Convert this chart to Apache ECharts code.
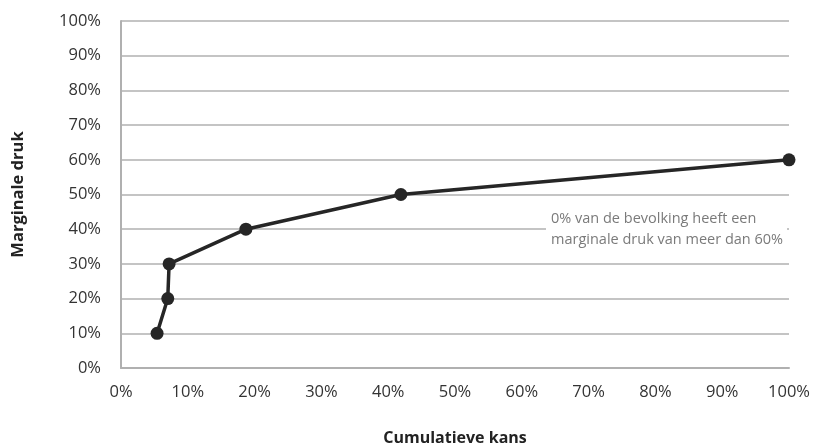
<!DOCTYPE html>
<html>
<head>
<meta charset="utf-8">
<script src="https://cdn.jsdelivr.net/npm/echarts@6/dist/echarts.min.js"></script>
<style>html,body{margin:0;padding:0;background:#fff;}#c{width:814px;height:444px;}</style>
</head>
<body>
<div id="c"></div>
<script>
const cumulativeKans = [5.4, 7.0, 7.2, 18.7, 41.9, 100];
const marginaleDruk = [10, 20, 30, 40, 50, 60];
const xAxisTitle = 'Cumulatieve kans';
const yAxisTitle = 'Marginale druk';
const noteLines = ['0% van de bevolking heeft een', 'marginale druk van meer dan 60%'];

const chart = echarts.init(document.getElementById('c'));
const font = '"Open Sans", "Liberation Sans", sans-serif';
chart.setOption({
  animation: false,
  backgroundColor: '#fff',
  grid: { left: 121, right: 25, top: 21, bottom: 76, containLabel: false, outerBoundsMode: 'none' },
  xAxis: {
    type: 'value', min: 0, max: 100, interval: 10,
    name: xAxisTitle, nameLocation: 'middle', nameGap: 62,
    nameTextStyle: { fontFamily: font, fontWeight: 'bold', fontSize: 16, color: '#222' },
    axisLine: { show: true, lineStyle: { color: '#b0b0b0', width: 2 } },
    axisTick: { show: false },
    splitLine: { show: false },
    axisLabel: { formatter: '{value}%', fontFamily: font, fontSize: 16.5, color: '#333', margin: 16 }
  },
  yAxis: {
    type: 'value', min: 0, max: 100, interval: 10,
    name: yAxisTitle, nameLocation: 'middle', nameGap: 94, nameRotate: 90,
    nameTextStyle: { fontFamily: font, fontWeight: 'bold', fontSize: 16.5, color: '#222' },
    axisLine: { show: true, lineStyle: { color: '#b0b0b0', width: 2 } },
    axisTick: { show: false },
    splitLine: { show: true, lineStyle: { color: '#c4c4c4', width: 2 } },
    axisLabel: { formatter: '{value}%', fontFamily: font, fontSize: 16.5, color: '#333', margin: 20 }
  },
  series: [{
    type: 'line',
    data: cumulativeKans.map((x, i) => [x, marginaleDruk[i]]),
    lineStyle: { color: '#262626', width: 3.5 },
    itemStyle: { color: '#262626' },
    symbol: 'circle', symbolSize: 13,
    z: 5
  }],
  graphic: [{
    type: 'text', left: 546, top: 208, z: 10,
    style: {
      text: noteLines.join('\n'),
      fontFamily: font, fontSize: 14.5, lineHeight: 21, fill: '#7a7a7a',
      backgroundColor: '#fff', padding: [0, 4, 0, 5]
    }
  }]
});
</script>
</body>
</html>
